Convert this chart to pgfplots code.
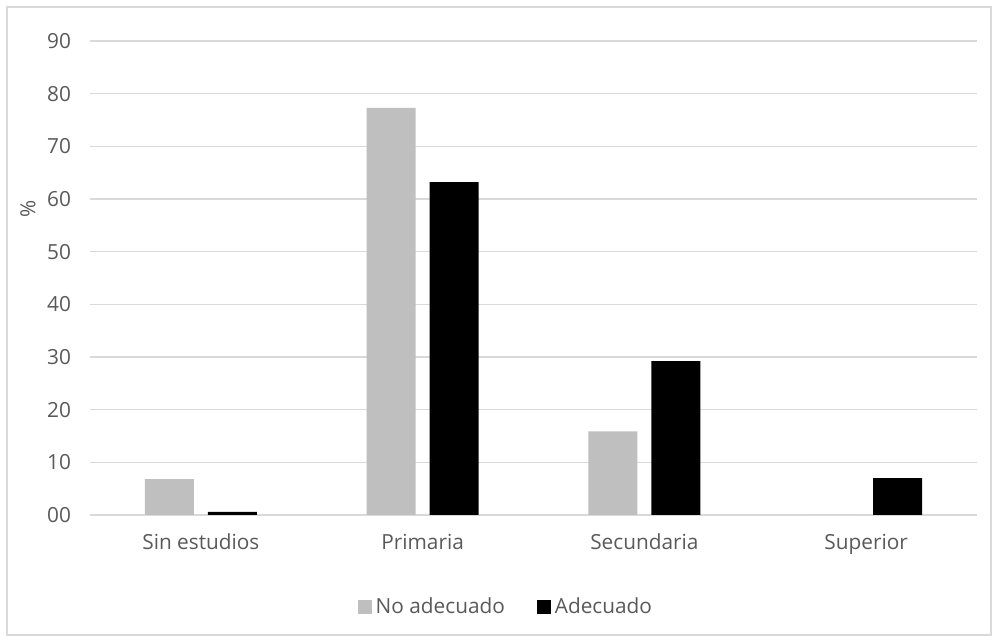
\documentclass[border=0pt]{standalone}
\usepackage{pgfplots}
\pgfplotsset{compat=1.18}
\usepackage{fontspec}
\setmainfont{Open Sans}
\definecolor{txt}{HTML}{595959}
\definecolor{grd}{HTML}{D9D9D9}
\definecolor{bgray}{HTML}{BFBFBF}
\begin{document}
\begin{tikzpicture}
\useasboundingbox (-45pt,-63.5pt) rectangle (454pt,257.5pt);
\draw[grd,line width=0.6pt] (-41.5pt,-60pt) rectangle (450.5pt,254pt);
\begin{axis}[
  at={(0,0)}, anchor=south west,
  scale only axis, width=443.5pt, height=237pt,
  ybar=7pt, bar width=24.5pt,
  xmin=-0.5, xmax=3.5, ymin=0, ymax=90,
  xtick={0,1,2,3},
  xticklabels={Sin estudios,Primaria,Secundaria,Superior},
  ytick={0,10,...,90},
  yticklabels={00,10,20,30,40,50,60,70,80,90},
  ymajorgrids, grid style={grd,line width=0.6pt},
  axis line style={draw=none},
  major tick length=0pt,
  tick label style={font=\fontsize{10.4}{12}\selectfont, text=txt},
  yticklabel style={xshift=-6pt},
  xticklabel style={yshift=-6pt},
  ylabel={\%},
  every axis y label/.style={at={(axis description cs:-0.070,0.645)}, anchor=center, rotate=90,
    font=\fontsize{10.4}{12}\selectfont, text=txt},
  legend columns=2,
  legend style={at={(axis description cs:0.47,-0.194)}, anchor=center, draw=none,
    font=\fontsize{10.4}{12}\selectfont, text=txt,
    /tikz/every even column/.append style={column sep=14pt}},
  legend image code/.code={\fill[#1] (0pt,-3.5pt) rectangle (7pt,3.5pt);},
]
\addplot[fill=bgray, draw=none] coordinates {(0,6.8) (1,77.3) (2,15.9) (3,0)};
\addplot[fill=black, draw=none] coordinates {(0,0.6) (1,63.2) (2,29.2) (3,7.0)};
\legend{No adecuado, Adecuado}
\end{axis}
\end{tikzpicture}
\end{document}
